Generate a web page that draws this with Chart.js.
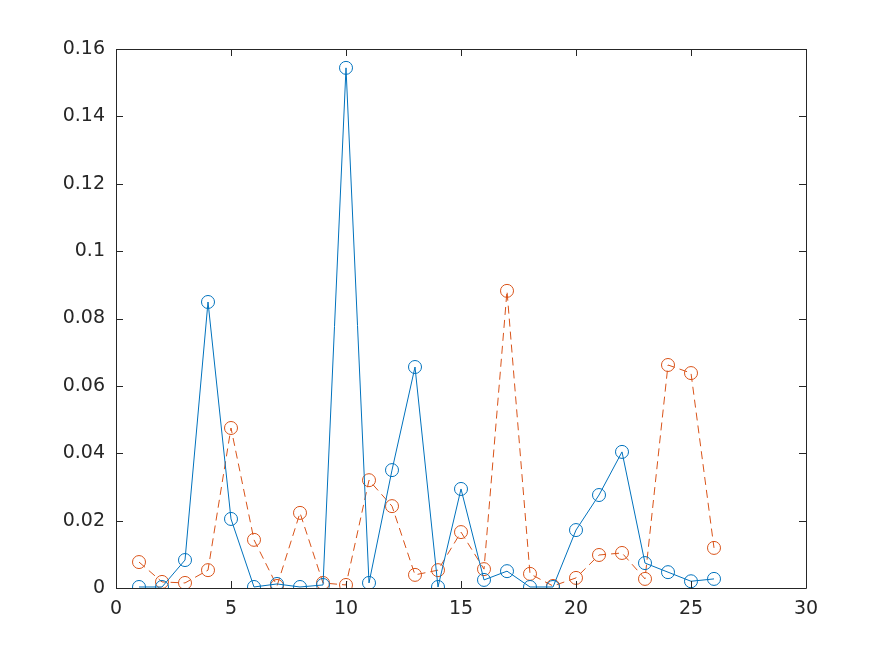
<!DOCTYPE html>
<html>
<head>
  <meta charset="UTF-8">
  <title>Series chart</title>
  <script src="https://cdn.jsdelivr.net/npm/chart.js"></script>
  <style>
    body { margin: 0; background: #fff; }
    #wrap { width: 891px; height: 659px; }
  </style>
</head>
<body>
  <div id="wrap"><canvas id="chart" width="891" height="659"></canvas></div>
  <script>
    // x positions and the two series
    const xValues = [1, 2, 3, 4, 5, 6, 7, 8, 9, 10, 11, 12, 13, 14, 15, 16, 17, 18, 19, 20, 21, 22, 23, 24, 25, 26];
    const seriesA = [0.0003, 0.0003, 0.0083, 0.0849, 0.0205, 0.0003, 0.0012, 0.0003, 0.0009, 0.1544,
                     0.0015, 0.0350, 0.0656, 0.0003, 0.0294, 0.0024, 0.0050, 0.0003, 0.0003, 0.0172,
                     0.0276, 0.0404, 0.0074, 0.0047, 0.0020, 0.0027];
    const seriesB = [0.0077, 0.0018, 0.0015, 0.0053, 0.0475, 0.0143, 0.0006, 0.0223, 0.0015, 0.0009,
                     0.0320, 0.0243, 0.0039, 0.0053, 0.0166, 0.0056, 0.0882, 0.0042, 0.0006, 0.0030,
                     0.0098, 0.0104, 0.0027, 0.0662, 0.0638, 0.0119];
    const xTicks = [0, 5, 10, 15, 20, 25, 30];
    const yTicks = [0, 0.02, 0.04, 0.06, 0.08, 0.1, 0.12, 0.14, 0.16];

    const toPoints = ys => ys.map((y, i) => ({ x: xValues[i], y: y }));
    const axisColor = '#262626';

    // box round the plot with ticks pointing inward
    const boxPlugin = {
      id: 'box',
      afterDraw(chart) {
        const { ctx, chartArea: a, scales } = chart;
        const len = 7;
        ctx.save();
        ctx.strokeStyle = axisColor;
        ctx.lineWidth = 1;
        ctx.beginPath();
        ctx.rect(a.left + 0.5, a.top + 0.5, a.right - a.left, a.bottom - a.top);
        xTicks.forEach(v => {
          const px = Math.round(scales.x.getPixelForValue(v)) + 0.5;
          ctx.moveTo(px, a.bottom); ctx.lineTo(px, a.bottom - len);
          ctx.moveTo(px, a.top); ctx.lineTo(px, a.top + len);
        });
        yTicks.forEach(v => {
          const py = Math.round(scales.y.getPixelForValue(v)) + 0.5;
          ctx.moveTo(a.left, py); ctx.lineTo(a.left + len, py);
          ctx.moveTo(a.right, py); ctx.lineTo(a.right - len, py);
        });
        ctx.stroke();
        ctx.restore();
      }
    };

    new Chart(document.getElementById('chart'), {
      type: 'line',
      data: {
        datasets: [
          {
            data: toPoints(seriesA),
            borderColor: '#0072BD',
            borderWidth: 1,
            pointRadius: 6.5,
            pointBorderWidth: 1,
            pointBorderColor: '#0072BD',
            pointBackgroundColor: 'rgba(0,0,0,0)',
            tension: 0
          },
          {
            data: toPoints(seriesB),
            borderColor: '#D95319',
            borderWidth: 1,
            borderDash: [8, 5],
            pointRadius: 6.5,
            pointBorderWidth: 1,
            pointBorderColor: '#D95319',
            pointBackgroundColor: 'rgba(0,0,0,0)',
            tension: 0
          }
        ]
      },
      options: {
        responsive: false,
        animation: false,
        layout: { padding: { left: 0, top: 49, right: 85, bottom: 0 } },
        plugins: { legend: { display: false }, tooltip: { enabled: false } },
        scales: {
          x: {
            type: 'linear',
            min: 0, max: 30,
            grid: { display: false, drawTicks: false },
            border: { display: false },
            afterFit: s => { s.height = 71; },
            afterBuildTicks: s => { s.ticks = xTicks.map(v => ({ value: v })); },
            ticks: {
              color: axisColor,
              padding: 10,
              font: { family: 'DejaVu Sans', size: 19 },
              maxRotation: 0
            }
          },
          y: {
            min: 0, max: 0.16,
            grid: { display: false, drawTicks: false },
            border: { display: false },
            afterFit: s => { s.width = 116; },
            afterBuildTicks: s => { s.ticks = yTicks.map(v => ({ value: v })); },
            ticks: {
              color: axisColor,
              padding: 11,
              font: { family: 'DejaVu Sans', size: 19 },
              callback: v => String(+v.toFixed(2))
            }
          }
        }
      },
      plugins: [boxPlugin]
    });
  </script>
</body>
</html>
